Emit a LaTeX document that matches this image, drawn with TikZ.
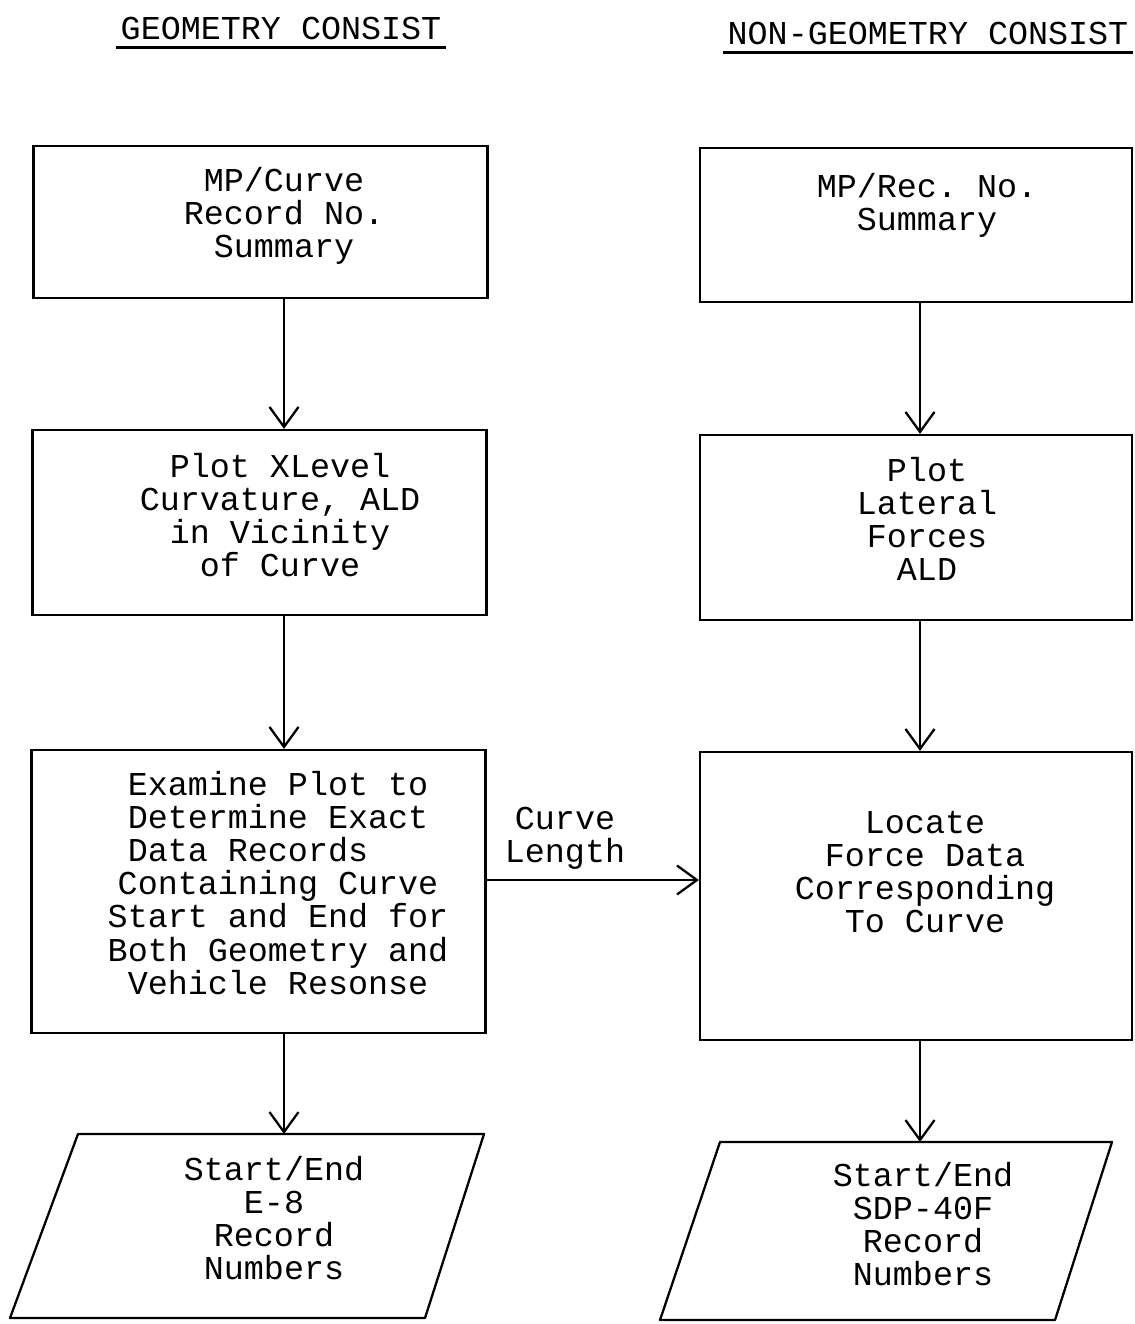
\documentclass[tikz,border=0pt]{standalone}
\usepackage{fontspec}
\setmonofont{Liberation Mono}
\usetikzlibrary{arrows.meta}

\begin{document}
\begin{tikzpicture}[x=0.02cm,y=-0.02cm,line width=1.3pt]
    \tikzstyle{lbox}=[draw, minimum width=9.08cm]
    \tikzstyle{rbox}=[draw, minimum width=8.64cm]
    \tikzstyle{iobox}=[line join=round]
    \tikzstyle{words}=[align=center, inner sep=0pt, font=\ttfamily\fontsize{19pt}{18.8pt}\selectfont]
    \tikzstyle{heading}=[inner xsep=2pt, inner ysep=3.5pt, font=\ttfamily\fontsize{19pt}{18.8pt}\selectfont]
    \tikzstyle{flow}=[-{Straight Barb[length=0.4cm,width=0.58cm]}]

    \useasboundingbox (0,0) rectangle (1134,1324);

    % column lines
    \coordinate (lline) at (284,0);
    \coordinate (rline) at (920,0);
    \coordinate (hline) at (0,880);

    % headings
    \node[heading] (geo) at (281,29) {GEOMETRY CONSIST};
    \draw[line width=1.8pt] (geo.south west) -- (geo.south east);
    \node[heading] (nongeo) at (928,34) {NON-GEOMETRY CONSIST};
    \draw[line width=1.8pt] (nongeo.south west) -- (nongeo.south east);

    % geometry boxes
    \node[lbox, minimum height=3.04cm] (l1) at (260.5,222) {};
    \node[words] (l1text) at (284,216) {MP/Curve\\Record No.\\Summary};
    \node[lbox, minimum height=3.7cm] (l2) at (259.5,522.5) {};
    \node[words] (l2text) at (280,515) {Plot XLevel\\Curvature, ALD\\in Vicinity\\of Curve};
    \node[lbox, minimum height=5.66cm] (l3) at (258.5,891.5) {};
    \node[words] (l3text) at (278,883) {Examine Plot to\\Determine Exact\\Data Records\phantom{xxx}\\Containing Curve\\Start and End for\\Both Geometry and\\Vehicle Resonse};
    % geometry output
    \coordinate (l4tl) at (78,1134);
    \coordinate (l4tr) at (484,1134);
    \coordinate (l4br) at (425,1318);
    \coordinate (l4bl) at (10,1318);
    \draw[iobox] (l4tl) -- (l4tr) -- (l4br) -- (l4bl) -- cycle;
    \node[words] (l4text) at (274,1218) {Start/End\\E-8\\Record\\Numbers};

    % non-geometry boxes
    \node[rbox, minimum height=3.08cm] (r1) at (916,225) {};
    \node[words] (r1text) at (927,205) {MP/Rec. No.\\Summary};
    \node[rbox, minimum height=3.7cm] (r2) at (916,527.5) {};
    \node[words] (r2text) at (927,519) {Plot\\Lateral\\Forces\\ALD};
    \node[rbox, minimum height=5.76cm] (r3) at (916,896) {};
    \node[words] (r3text) at (925,872) {Locate\\Force Data\\Corresponding\\To Curve};
    % non-geometry output
    \coordinate (r4tl) at (720,1142);
    \coordinate (r4tr) at (1112,1142);
    \coordinate (r4br) at (1055,1320);
    \coordinate (r4bl) at (660,1320);
    \draw[iobox] (r4tl) -- (r4tr) -- (r4br) -- (r4bl) -- cycle;
    \node[words] (r4text) at (923,1224) {Start/End\\SDP-40F\\Record\\Numbers};

    % link label
    \node[words] (curvelen) at (565,838) {Curve\\Length};

    % arrows
    \draw[flow] (lline |- l1.south) -- (lline |- l2.north);
    \draw[flow] (lline |- l2.south) -- (lline |- l3.north);
    \draw[flow] (lline |- l3.south) -- (lline |- l4tl);
    \draw[flow] (rline |- r1.south) -- (rline |- r2.north);
    \draw[flow] (rline |- r2.south) -- (rline |- r3.north);
    \draw[flow] (rline |- r3.south) -- (rline |- r4tl);
    \draw[flow] (l3.east |- hline) -- (r3.west |- hline);

\end{tikzpicture}
\end{document}
